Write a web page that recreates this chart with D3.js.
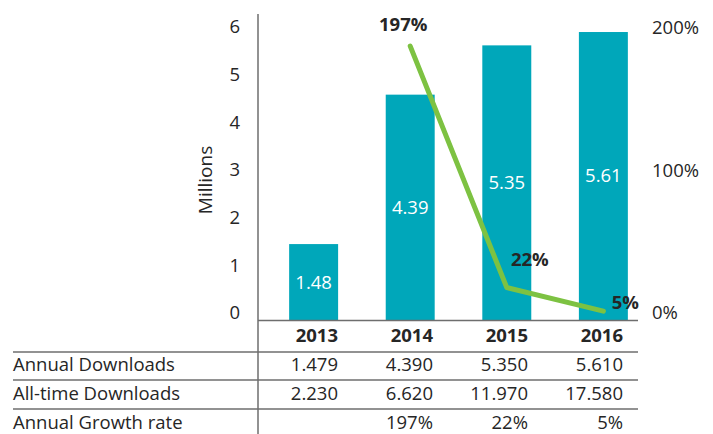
<!DOCTYPE html>
<html>
<head>
<meta charset="utf-8">
<script src="https://cdn.jsdelivr.net/npm/d3@7"></script>
<style>
  body { margin: 0; background: #fff; }
  svg text { font-family: "Open Sans", sans-serif; fill: #262626; }
</style>
</head>
<body>
<div id="chart"></div>
<script>
// data
const years = ["2013", "2014", "2015", "2016"];
const annual = [1.479, 4.390, 5.350, 5.610];
const barLabels = ["1.48", "4.39", "5.35", "5.61"];
const allTime = ["2.230", "6.620", "11.970", "17.580"];
const growth = [null, 1.97, 0.22, 0.05];
const growthLabels = ["", "197%", "22%", "5%"];
const leftTicks = [0, 1, 2, 3, 4, 5, 6];
const rightTicks = [0, 1, 2];
const rowNames = ["Annual Downloads", "All-time Downloads", "Annual Growth rate"];

const width = 713, height = 434;
const teal = "#00a7ba", green = "#7dc242", grid = "#6e6e6e";

let svg = d3.select("#chart").append("svg")
    .attr("width", width)
    .attr("height", height);

// scales
let x = d3.scaleBand().domain(years).range([265, 652]).paddingInner(0.493).paddingOuter(0.25);
let y = d3.scaleLinear().domain([0, 6]).range([320, 12]);
let yRight = d3.scaleLinear().domain([0, 2]).range([318, 42]);
// tick label positions (drawn slightly off the bar scale, as in the source)
let yTick = d3.scaleLinear().domain([0, 6]).range([313, 27]);
let yTickRight = d3.scaleLinear().domain([0, 2]).range([313, 28]);
let col = d3.scaleBand().domain(years).range([258, 638]);

// bars
svg.selectAll("rect.bar")
    .data(annual)
    .enter()
    .append("rect")
    .attr("class", "bar")
    .attr("x", (d, i) => x(years[i]))
    .attr("width", x.bandwidth())
    .attr("y", d => y(d))
    .attr("height", d => y(0) - y(d))
    .attr("fill", teal);

svg.selectAll("text.barlabel")
    .data(annual)
    .enter()
    .append("text")
    .attr("class", "barlabel")
    .attr("x", (d, i) => x(years[i]) + x.bandwidth() / 2)
    .attr("y", d => (y(d) + y(0)) / 2)
    .attr("dy", "0.35em")
    .attr("text-anchor", "middle")
    .style("fill", "#fff")
    .style("font-size", "18.5px")
    .text((d, i) => barLabels[i]);

// growth line
let pts = growth.map((g, i) => ({ g: g, year: years[i], label: growthLabels[i] })).filter(d => d.g !== null);
let line = d3.line()
    .x(d => x(d.year) + x.bandwidth() / 2)
    .y(d => yRight(d.g));
svg.append("path")
    .datum(pts)
    .attr("d", line)
    .attr("fill", "none")
    .attr("stroke", green)
    .attr("stroke-width", 5)
    .attr("stroke-linecap", "round")
    .attr("stroke-linejoin", "round");

let labelOffsets = [[-7, -22], [23, -28], [22, -9]];
svg.selectAll("text.growth")
    .data(pts)
    .enter()
    .append("text")
    .attr("class", "growth")
    .attr("x", (d, i) => x(d.year) + x.bandwidth() / 2 + labelOffsets[i][0])
    .attr("y", (d, i) => yRight(d.g) + labelOffsets[i][1])
    .attr("dy", "0.35em")
    .attr("text-anchor", "middle")
    .style("font-weight", "bold")
    .style("font-size", "18.5px")
    .text(d => d.label);

// left axis labels
let leftAxis = svg.append("g")
    .attr("transform", "translate(240,0)")
    .call(d3.axisLeft(yTick).tickValues(leftTicks).tickSize(0).tickPadding(0)
        .tickFormat(d3.format("d")));
leftAxis.select(".domain").remove();
leftAxis.selectAll("text").style("font-size", "18.5px").style("font-family", null);

let rightAxis = svg.append("g")
    .attr("transform", "translate(652,0)")
    .call(d3.axisRight(yTickRight).tickValues(rightTicks).tickSize(0).tickPadding(0)
        .tickFormat(d => d * 100 + "%"));
rightAxis.select(".domain").remove();
rightAxis.selectAll("text").style("font-size", "18.5px").style("font-family", null);

svg.append("text")
    .attr("transform", "translate(205,180) rotate(-90)")
    .attr("dy", "0.35em")
    .attr("text-anchor", "middle")
    .style("font-size", "19px")
    .text("Millions");

// table lines
svg.append("line")
    .attr("x1", 258).attr("x2", 638)
    .attr("y1", 320.5).attr("y2", 320.5)
    .attr("stroke", grid).attr("stroke-width", 1.5);
[352, 380, 409].forEach(ly => {
    svg.append("line")
        .attr("x1", 13).attr("x2", 638)
        .attr("y1", ly).attr("y2", ly)
        .attr("stroke", grid).attr("stroke-width", 1.5);
});
svg.append("line")
    .attr("x1", 258).attr("x2", 258)
    .attr("y1", 14).attr("y2", height)
    .attr("stroke", grid).attr("stroke-width", 1.5);

// table text
let rowY = [365, 394, 423];
svg.selectAll("text.year")
    .data(years)
    .enter()
    .append("text")
    .attr("class", "year")
    .attr("x", d => col(d) + col.bandwidth() - 15)
    .attr("y", 336)
    .attr("dy", "0.35em")
    .attr("text-anchor", "end")
    .style("font-weight", "bold")
    .style("font-size", "18.5px")
    .text(d => d);

svg.selectAll("text.rowname")
    .data(rowNames)
    .enter()
    .append("text")
    .attr("class", "rowname")
    .attr("x", 13)
    .attr("y", (d, i) => rowY[i])
    .attr("dy", "0.35em")
    .style("font-size", "18.5px")
    .text(d => d);

let rows = [
    annual.map(v => v.toFixed(3)),
    allTime,
    growthLabels
];
rows.forEach((r, ri) => {
    svg.selectAll("text.cell" + ri)
        .data(r)
        .enter()
        .append("text")
        .attr("class", "cell" + ri)
        .attr("x", (d, i) => col(years[i]) + col.bandwidth() - 15)
        .attr("y", rowY[ri])
        .attr("dy", "0.35em")
        .attr("text-anchor", "end")
        .style("font-size", "18.5px")
        .text(d => d);
});
</script>
</body>
</html>
